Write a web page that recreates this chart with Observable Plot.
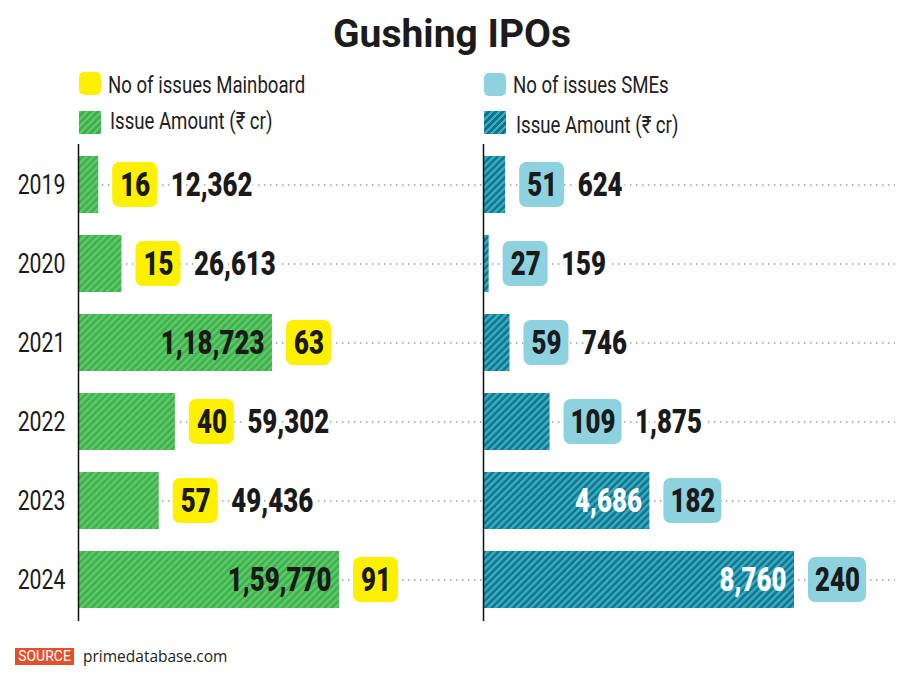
<!DOCTYPE html>
<html>
<head>
<meta charset="utf-8">
<script src="https://cdn.jsdelivr.net/npm/d3@7"></script>
<script src="https://cdn.jsdelivr.net/npm/@observablehq/plot@0.6"></script>
<style>
  body { margin: 0; background: #fff; }
  #wrap { position: relative; width: 900px; height: 680px; overflow: hidden; background: #fff; }
  .abs { position: absolute; }
  #title { left: 0; width: 904px; top: 11px; text-align: center; font-family: Roboto, sans-serif; font-weight: 700; font-size: 39px; color: #1c1c1c; }
  .sw { width: 22px; height: 23px; border-radius: 5px; }
  .hatch { width: 22px; height: 23px; }
  .lg { font-family: Roboto, sans-serif; font-size: 24px; color: #222; line-height: 26px; white-space: nowrap; transform: scaleX(0.775); transform-origin: 0 50%; }
  #src { left: 15px; top: 648px; width: 59px; height: 17px; background: #e4502a; color: #fff; font-family: Roboto, sans-serif; font-size: 14px; line-height: 17px; text-align: center; }
  #srctext { left: 83px; top: 645px; font-family: "Open Sans", sans-serif; font-size: 15.5px; font-weight: 500; color: #222; line-height: 22px; }
</style>
</head>
<body>
<div id="wrap">
  <div id="title" class="abs">Gushing IPOs</div>

  <div class="abs sw" style="left:79px;top:72px;background:#fff000"></div>
  <div class="abs lg" style="left:108px;top:72px">No of issues Mainboard</div>
  <div class="abs hatch" style="left:79px;top:111px;background:repeating-linear-gradient(135deg,#5dcb69 0 2.5px,#3fae4d 2.5px 5px)"></div>
  <div class="abs lg" style="left:110px;top:108px">Issue Amount (₹ cr)</div>

  <div class="abs sw" style="left:484px;top:73px;background:#8ed2e0"></div>
  <div class="abs lg" style="left:513px;top:72px">No of issues SMEs</div>
  <div class="abs hatch" style="left:484px;top:111px;background:repeating-linear-gradient(135deg,#3aadc6 0 2.5px,#0f7389 2.5px 5px)"></div>
  <div class="abs lg" style="left:516px;top:112px">Issue Amount (₹ cr)</div>

  <div id="left" class="abs" style="left:0;top:121px"></div>
  <div id="right" class="abs" style="left:450px;top:121px"></div>

  <div id="src" class="abs">SOURCE</div>
  <div id="srctext" class="abs">primedatabase.com</div>
</div>
<script>
const years = ["2019", "2020", "2021", "2022", "2023", "2024"];
const mainIssues = [16, 15, 63, 40, 57, 91];
const mainAmount = [12362, 26613, 118723, 59302, 49436, 159770];
const smeIssues = [51, 27, 59, 109, 182, 240];
const smeAmount = [624, 159, 746, 1875, 4686, 8760];

function inr(n) {
  const s = String(n);
  if (s.length <= 3) return s;
  const last3 = s.slice(-3);
  const rest = s.slice(0, -3).replace(/\B(?=(\d{2})+(?!\d))/g, ",");
  return rest + "," + last3;
}

const NUM_FONT = 'Roboto, sans-serif';

function panel(opts) {
  const {issues, amount, xMax, width, marginLeft, marginRight, patternId, c1, c2,
         boxFill, insideColor, showAxis, ruleInsetLeft} = opts;
  const rows = years.map((y, i) => ({
    year: y, n: issues[i], amt: amount[i], label: inr(amount[i]),
    inside: amount[i] > 0.35 * xMax, wide: String(issues[i]).length > 2
  }));
  const gap = 14, w2 = 45, w3 = 58, gap2 = 13;
  const defs = () => {
    const g = d3.create("svg:defs");
    const p = g.append("pattern").attr("id", patternId).attr("patternUnits", "userSpaceOnUse")
      .attr("width", 5).attr("height", 5).attr("patternTransform", "rotate(45)");
    p.append("rect").attr("width", 5).attr("height", 5).attr("fill", c2);
    p.append("rect").attr("width", 2.5).attr("height", 5).attr("fill", c1);
    return g.node();
  };
  const textBase = {x: "amt", y: "year", fontSize: 34, fontWeight: 900, fontFamily: NUM_FONT, dy: 0};
  const marks = [
    defs,
    Plot.ruleY(rows, {y: "year", stroke: "#9a9a9a", strokeWidth: 1.4, strokeDasharray: "1.4,4.6", insetLeft: ruleInsetLeft}),
    Plot.barX(rows, {x: "amt", y: "year", fill: `url(#${patternId})`}),
    Plot.ruleX([0], {stroke: "#111", strokeWidth: 1.5, insetTop: 13, insetBottom: 12}),
    Plot.barX(rows.filter(d => !d.wide), {x1: "amt", x2: "amt", y: "year", dx: gap, insetRight: -w2, insetTop: 6, insetBottom: 6, rx: 7, fill: boxFill}),
    Plot.barX(rows.filter(d => d.wide), {x1: "amt", x2: "amt", y: "year", dx: gap, insetRight: -w3, insetTop: 6, insetBottom: 6, rx: 7, fill: boxFill}),
    Plot.text(rows.filter(d => !d.wide), {...textBase, text: "n", dx: gap + w2 / 2, fill: "#1a1a1a"}),
    Plot.text(rows.filter(d => d.wide), {...textBase, text: "n", dx: gap + w3 / 2, fill: "#1a1a1a"}),
    Plot.text(rows.filter(d => d.inside), {...textBase, text: "label", textAnchor: "end", dx: -8, fill: insideColor}),
    Plot.text(rows.filter(d => !d.inside && !d.wide), {...textBase, text: "label", textAnchor: "start", dx: gap + w2 + gap2, fill: "#1a1a1a", stroke: "white", strokeWidth: 8}),
    Plot.text(rows.filter(d => !d.inside && d.wide), {...textBase, text: "label", textAnchor: "start", dx: gap + w3 + gap2, fill: "#1a1a1a", stroke: "white", strokeWidth: 8})
  ];
  return Plot.plot({
    width, height: 522,
    marginLeft, marginRight, marginTop: 10, marginBottom: 10,
    style: {fontFamily: NUM_FONT, fontSize: "28px", color: "#1a1a1a", background: "transparent", overflow: "visible"},
    x: {domain: [0, xMax], axis: null},
    y: {domain: years, padding: 0.28, axis: showAxis ? "left" : null, tickSize: 0, tickPadding: 13, label: null},
    marks
  });
}

// narrow the glyphs to mimic the condensed face of the original
function condense(svg, k) {
  svg.querySelectorAll("text").forEach(t => {
    const L = t.getComputedTextLength();
    if (L > 0) {
      t.setAttribute("textLength", L * k);
      t.setAttribute("lengthAdjust", "spacingAndGlyphs");
    }
  });
}

const left = panel({
  issues: mainIssues, amount: mainAmount, xMax: 227700, width: 450, marginLeft: 78, marginRight: 0,
  patternId: "hatchG", c1: "#5dcb69", c2: "#3fae4d", boxFill: "#fff000", insideColor: "#1a1a1a",
  showAxis: true, ruleInsetLeft: 0
});
const right = panel({
  issues: smeIssues, amount: smeAmount, xMax: 11605, width: 450, marginLeft: 33, marginRight: 5,
  patternId: "hatchT", c1: "#3aadc6", c2: "#0f7389", boxFill: "#8ed2e0", insideColor: "#ffffff",
  showAxis: false, ruleInsetLeft: -33
});
document.getElementById("left").appendChild(left);
document.getElementById("right").appendChild(right);
condense(left, 0.76);
condense(right, 0.76);
</script>
</body>
</html>
